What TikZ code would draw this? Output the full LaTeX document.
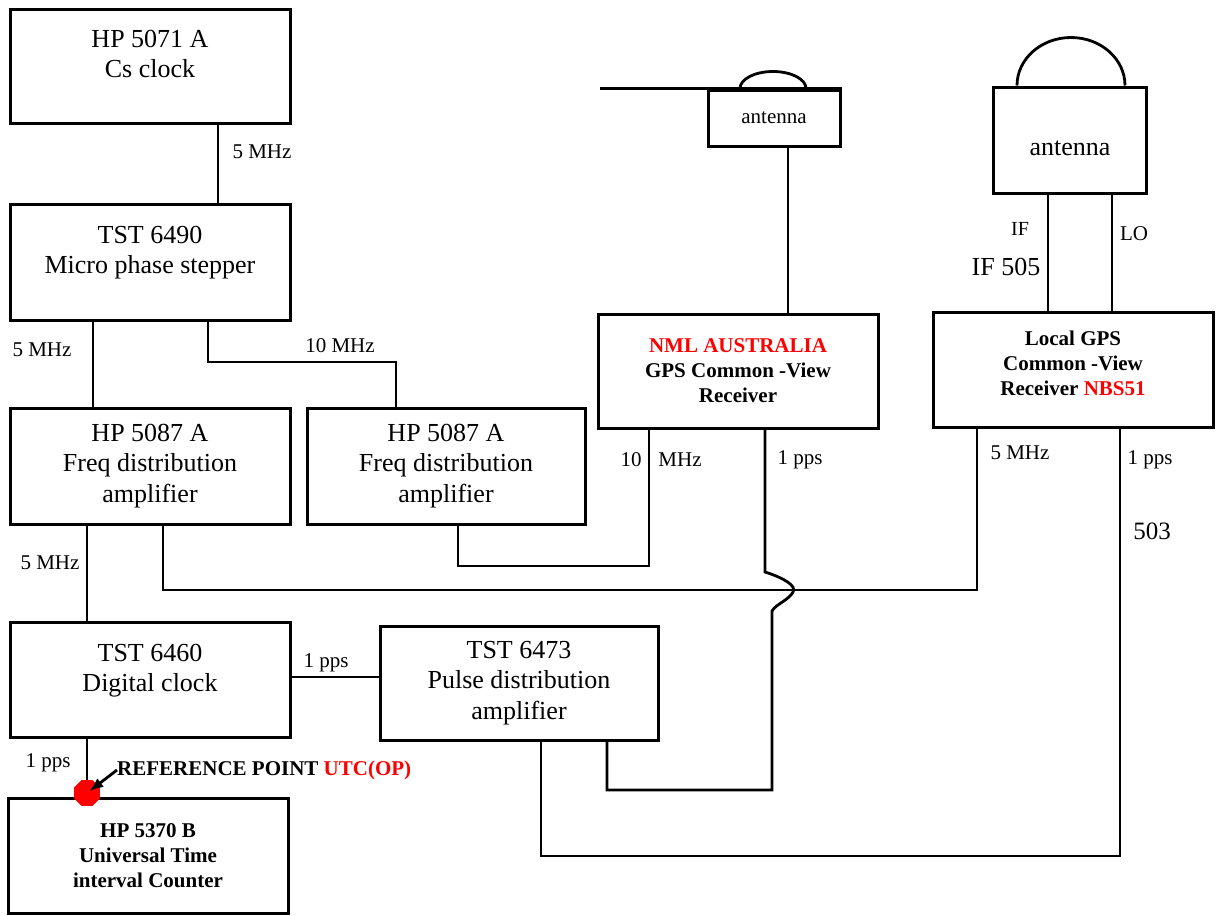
\documentclass[tikz,border=0pt]{standalone}
\usepackage{fontspec}
\setmainfont{Liberation Serif}
\usetikzlibrary{shapes.geometric,arrows.meta}

\tikzset{
  bloc/.style={draw, line width=3pt, align=center, inner sep=0pt, font=\fontsize{26}{30.5}\selectfont},
  blocgras/.style={bloc, font=\fontsize{21}{25}\selectfont\bfseries},
  fil/.style={line width=2.8pt},
  etiq/.style={inner sep=0pt, font=\fontsize{21}{25}\selectfont},
  grand/.style={inner sep=0pt, font=\fontsize{26}{30}\selectfont},
}

\begin{document}
\begin{tikzpicture}[x=1pt, y=-1pt]
		\useasboundingbox (0,0) rectangle (1216,916);

		% colonne de gauche
		\node[bloc, minimum width=280pt, minimum height=114pt] (cs) at (150,66) {HP 5071 A\\Cs clock\\[-6pt]\mbox{}};
		\node[bloc, minimum width=280pt, minimum height=116pt] (mps) at (150,262) {TST 6490\\Micro phase stepper\\[-6pt]\mbox{}};
		\node[bloc, minimum width=280pt, minimum height=116pt] (fda) at (150,466) {HP 5087 A\\Freq distribution\\amplifier};
		\node[bloc, minimum width=280pt, minimum height=115pt] (dclk) at (150,680) {TST 6460\\Digital clock\\[-6pt]\mbox{}};
		\node[blocgras, minimum width=280pt, minimum height=115pt] (tic) at (148,856) {HP 5370 B\\Universal Time\\interval Counter};

		% milieu
		\node[bloc, minimum width=278pt, minimum height=116pt] (fdb) at (446,466) {HP 5087 A\\Freq distribution\\amplifier};
		\node[bloc, minimum width=278pt, minimum height=114pt] (pda) at (519,683) {TST 6473\\Pulse distribution\\amplifier};

		% recepteurs GPS
		\node[blocgras, minimum width=280pt, minimum height=114pt] (nml) at (738,371) {\textcolor{red}{NML AUSTRALIA}\\GPS Common -View\\Receiver};
		\node[blocgras, minimum width=280pt, minimum height=115pt] (lgps) at (1073,370) {Local GPS\\Common -View\\Receiver \textcolor{red}{NBS51}\\[-12pt]\mbox{}};

		% antennes
		\node[bloc, font=\fontsize{21}{25}\selectfont, minimum width=132pt, minimum height=56pt] (ant1) at (774,118) {antenna};
		\draw[fil] (ant1.north west -| 600,0) -- (ant1.north east);
		\draw[fil] (ant1.north -| 740,0) arc[start angle=180, end angle=0, x radius=33pt, y radius=17pt];
		\node[bloc, minimum width=153pt, minimum height=106pt] (ant2) at (1070,140) {\raisebox{-15pt}[0pt][0pt]{antenna}};
		\draw[fil] (ant2.north -| 1017,0) arc[start angle=180, end angle=0, x radius=54pt, y radius=48pt];

		% 5 MHz Cs -> stepper
		\draw[fil] (cs.south -| 218,0) -- (mps.north -| 218,0);
		\node[etiq] (l1) at (262,152) {5 MHz};

		% stepper -> distributeurs
		\draw[fil] (mps.south -| 93,0) -- (fda.north -| 93,0);
		\node[etiq] (l2) at (42,350) {5 MHz};
		\draw[fil] (mps.south -| 208,0) |- (396,362) -- (fdb.north -| 396,0);
		\node[etiq] (l3) at (340,346) {10 MHz};

		% distributeur -> horloge
		\draw[fil] (fda.south -| 87,0) -- (dclk.north -| 87,0);
		\node[etiq] (l4) at (50,563) {5 MHz};

		% horloge -> distributeur impulsions
		\draw[fil] (dclk.east |- 0,677) -- (pda.west |- 0,677);
		\node[etiq] (l5) at (326,663) {1 pps};

		% horloge -> compteur
		\draw[fil] (dclk.south -| 87,0) -- (tic.north -| 87,0);
		\node[etiq] (l6) at (48,763) {1 pps};

		% antennes -> recepteurs
		\draw[fil] (ant1.south -| 788,0) -- (nml.north -| 788,0);
		\draw[fil] (ant2.south -| 1048,0) -- (lgps.north -| 1048,0);
		\draw[fil] (ant2.south -| 1112,0) -- (lgps.north -| 1112,0);
		\node[etiq, font=\fontsize{20}{24}\selectfont] (lif) at (1020,229) {IF};
		\node[etiq] (llo) at (1134,234) {LO};
		\node[grand] (lif2) at (1006,267) {IF 505};

		% NML 10 MHz
		\draw[fil] (nml.south -| 649,0) |- (458,566) -- (fdb.south -| 458,0);
		\node[etiq] (l7) at (631,460) {10};
		\node[etiq] (l8) at (680,460) {MHz};

		% NML 1 pps (saut)
		\draw[fil] (nml.south -| 765,0) -- (765,572) .. controls (784,578) and (797,586) .. (793,592) .. controls (789,600) and (776,604) .. (772,611) -- (772,790) -- (607,790) -- (pda.south -| 607,0);
		\node[etiq] (l9) at (800,460) {1 pps};

		% local GPS 5 MHz
		\draw[fil] (lgps.south -| 977,0) |- (163,590) -- (fda.south -| 163,0);
		\node[etiq] (l10) at (1020,453) {5 MHz};

		% local GPS 1 pps
		\draw[fil] (lgps.south -| 1120,0) |- (541,856) -- (pda.south -| 541,0);
		\node[etiq] (l11) at (1150,460) {1 pps};
		\node[grand, font=\fontsize{25}{30}\selectfont] (l12) at (1152,531) {503};

		% point de reference
		\node[regular polygon, regular polygon sides=8, fill=red, inner sep=0pt, minimum size=28pt] (pt) at (87,793) {};
		\node[etiq, anchor=west, font=\fontsize{21}{25}\selectfont\bfseries] (ref) at (117,770) {REFERENCE POINT \textcolor{red}{UTC(OP)}};
		\draw[fil, -{Latex[length=14pt,width=11pt]}, shorten >=3pt] (ref.west) -- (pt.center);

\end{tikzpicture}
\end{document}
